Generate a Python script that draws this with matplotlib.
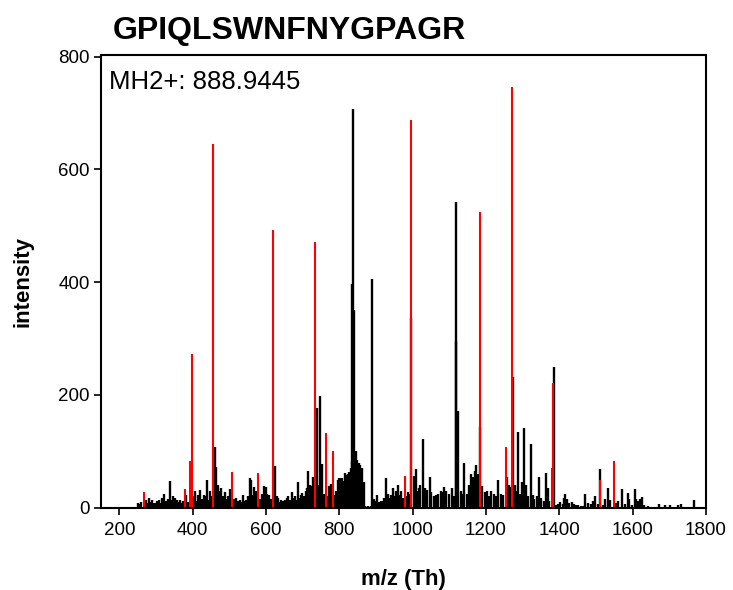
import matplotlib
matplotlib.use("Agg")
import matplotlib.pyplot as plt

plt.rcParams['font.family'] = ['Liberation Sans', 'DejaVu Sans']

title = "GPIQLSWNFNYGPAGR"
precursor_label = "MH2+: 888.9445"
x_label = "m/z (Th)"
y_label = "intensity"
x_ticks = [200, 400, 600, 800, 1000, 1200, 1400, 1600, 1800]
y_ticks = [0, 200, 400, 600, 800]

# unmatched (black) peaks
black_mz = [250, 254, 259, 272, 277, 282, 286, 289, 293, 298, 303, 307, 312, 316, 323, 327, 332, 338,
            343, 347, 352, 356, 361, 366, 370, 374, 382, 386, 402, 406, 410, 414, 421, 425, 430, 434,
            439, 443, 448, 451, 460, 464, 469, 473, 478, 482, 487, 492, 496, 500, 503, 512, 519, 523,
            528, 533, 537, 542, 546, 551, 555, 560, 564, 567, 572, 583, 588, 592, 595, 599, 604, 608,
            613, 624, 629, 633, 638, 642, 647, 651, 656, 660, 665, 670, 674, 679, 682, 686, 690, 695,
            699, 703, 708, 712, 715, 719, 722, 726, 729, 738, 743, 747, 753, 758, 767, 772, 776, 786,
            791, 795, 798, 802, 806, 809, 813, 816, 820, 824, 827, 831, 834, 835, 838, 841, 843, 846,
            849, 853, 857, 861, 866, 870, 874, 878, 882, 886, 890, 895, 900, 904, 909, 913, 918, 922,
            928, 932, 936, 941, 945, 950, 954, 959, 963, 968, 973, 983, 987, 992, 995, 1003, 1007,
            1010, 1015, 1018, 1021, 1027, 1033, 1039, 1046, 1051, 1057, 1064, 1069, 1076, 1080, 1085,
            1091, 1098, 1106, 1112, 1117, 1119, 1124, 1131, 1135, 1141, 1147, 1153, 1158, 1164, 1170,
            1173, 1179, 1183, 1190, 1196, 1202, 1208, 1215, 1222, 1228, 1234, 1240, 1246, 1258, 1263,
            1267, 1274, 1278, 1282, 1287, 1293, 1298, 1304, 1309, 1315, 1322, 1327, 1331, 1339, 1345,
            1351, 1357, 1363, 1368, 1372, 1385, 1391, 1395, 1402, 1409, 1413, 1416, 1421, 1427, 1434,
            1441, 1445, 1452, 1459, 1464, 1470, 1477, 1485, 1491, 1498, 1505, 1512, 1519, 1525, 1532,
            1539, 1555, 1561, 1571, 1578, 1587, 1591, 1598, 1605, 1610, 1614, 1621, 1626, 1632, 1643,
            1673, 1689, 1701, 1724, 1733, 1768]
black_int = [8, 6, 10, 13, 8, 18, 10, 13, 8, 9, 12, 14, 9, 17, 25, 12, 15, 48,
             14, 20, 17, 13, 10, 14, 9, 12, 22, 10, 20, 30, 12, 22, 32, 15, 22, 20,
             50, 14, 30, 20, 108, 73, 40, 30, 35, 20, 28, 15, 20, 18, 33, 15, 18, 12,
             14, 10, 22, 12, 13, 20, 52, 50, 22, 37, 30, 15, 25, 20, 38, 36, 25, 22,
             15, 74, 20, 17, 10, 14, 12, 13, 17, 20, 14, 28, 17, 20, 14, 46, 18, 22,
             26, 20, 30, 35, 65, 40, 33, 38, 55, 176, 40, 198, 78, 25, 20, 38, 42, 22,
             30, 49, 52, 53, 52, 48, 45, 61, 58, 60, 63, 70, 82, 397, 707, 350, 91, 100,
             85, 80, 75, 70, 45, 3, 2, 3, 2, 3, 406, 15, 12, 22, 10, 12, 12, 18,
             52, 25, 18, 22, 35, 20, 30, 40, 22, 30, 18, 20, 28, 25, 336, 56, 40,
             68, 30, 35, 40, 121, 35, 32, 55, 28, 20, 22, 25, 30, 28, 37,
             30, 25, 35, 20, 295, 542, 172, 30, 25, 80, 25, 40, 60, 55, 65,
             76, 60, 143, 38, 28, 30, 20, 30, 25, 20, 50, 25, 22, 55, 40,
             37, 232, 40, 30, 135, 25, 45, 142, 40, 20, 113, 22, 15, 20, 55,
             18, 12, 61, 35, 12, 250, 5, 7, 10, 6, 18, 25, 15, 8, 10,
             6, 5, 4, 3, 3, 25, 8, 6, 12, 21, 6, 69, 5, 15, 35,
             14, 8, 12, 33, 7, 26, 15, 5, 34, 15, 12, 15, 19, 5, 3,
             6, 5, 5, 4, 7, 13]

# matched (red) fragment peaks
red_mz = [266, 378, 394, 397, 455, 508, 578, 619, 734, 763, 782, 978, 996, 1183, 1254, 1272,
          1379, 1383, 1511, 1549]
red_int = [27, 34, 82, 273, 645, 64, 61, 492, 471, 132, 101, 56, 688, 524, 107, 746,
           70, 222, 50, 82]

fig = plt.figure(figsize=(7.33, 5.90), dpi=100)
ax = fig.add_axes([101 / 733, (590 - 507.7) / 590, (706 - 101) / 733, (507.7 - 55) / 590])

ax.vlines(black_mz, 0, black_int, colors='black', linewidth=1.7)
ax.vlines(red_mz, 0, red_int, colors='#ff0000', linewidth=1.5)

ax.set_xlim(150, 1800)
ax.set_ylim(0, 803)
ax.set_xticks(x_ticks)
ax.set_yticks(y_ticks)
ax.tick_params(axis='both', direction='out', length=5, width=1.2, labelsize=13.5, color='black')
ax.tick_params(axis='x', pad=5)
ax.tick_params(axis='y', pad=3)
for s in ax.spines.values():
    s.set_linewidth(1.5)
    s.set_color('black')

ax.set_xlabel(x_label, fontsize=16, fontweight='bold', labelpad=22)
ax.set_ylabel(y_label, fontsize=16, fontweight='bold', labelpad=18)

ax.text(0.014, 0.967, precursor_label, transform=ax.transAxes, fontsize=18.5,
        ha='left', va='top')
fig.text(113 / 733, 1 - 31 / 590, title, fontsize=23, fontweight='bold', ha='left', va='center')

fig.savefig("out.png", dpi=100)
